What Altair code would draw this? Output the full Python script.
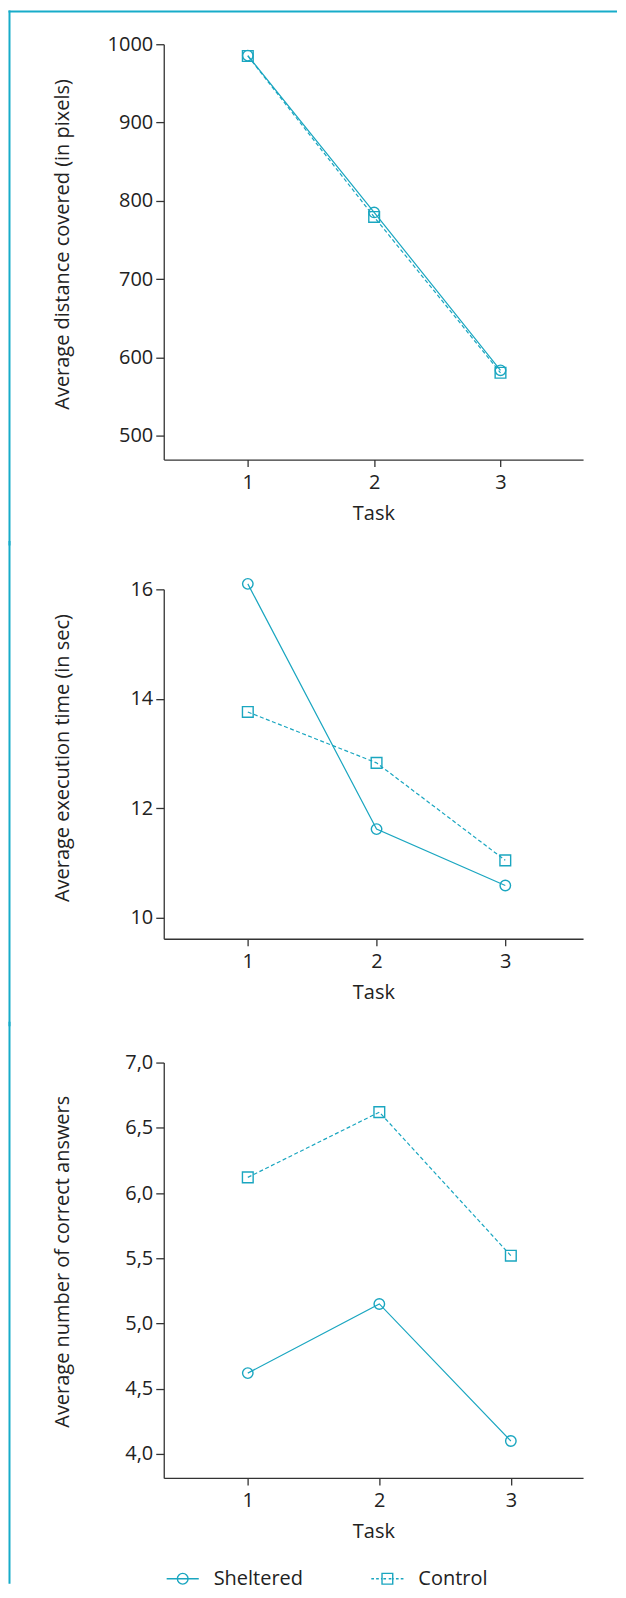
import altair as alt
import pandas as pd

TEAL = "#1aa6c0"
BORDER = "#17acc9"
INK = "#222222"
AXIS = "#333333"

# ---- data ----
tasks = [1, 2, 3]
groups = ["Sheltered", "Control"]

distance_sheltered = [985.5, 785.3, 583.7]
distance_control = [985.0, 779.5, 580.6]
time_sheltered = [16.10, 11.62, 10.59]
time_control = [13.76, 12.83, 11.05]
correct_sheltered = [4.62, 5.15, 4.10]
correct_control = [6.12, 6.62, 5.52]

distance_ticks = [500, 600, 700, 800, 900, 1000]
time_ticks = [10, 12, 14, 16]
correct_ticks = [4.0, 4.5, 5.0, 5.5, 6.0, 6.5, 7.0]

y_titles = [
    "Average distance covered (in pixels)",
    "Average execution time (in sec)",
    "Average number of correct answers",
]
x_title = "Task"

# legend symbols: marker with line through it (unit box scaled by symbol size)
PATH_S = "M-3 0 L3 0 M-1 0 A1 1 0 1 0 1 0 A1 1 0 1 0 -1 0"
PATH_C = ("M-3 0 L-2.5 0 M-2.1 0 L-1.6 0 M-1.2 0 L-1 0 "
          "M-0.75 0 L-0.25 0 M0.25 0 L0.75 0 "
          "M1 0 L1.2 0 M1.6 0 L2.1 0 M2.5 0 L3 0 "
          "M-1 -1 L1 -1 L1 1 L-1 1 Z")

FRAME_L = -155.5      # left edge of the frame, relative to plot origin
FRAME_W = 2
FRAME_RIGHT = 454.0
OVERLAP = 6           # frame pieces overlap across panel joints
PLOT_W = 420


def make_panel(sheltered, control, title, ydomain, yticks, xdomain, height,
               title_y, frame_top, frame_bottom, comma=False,
               top_border=False, legend=False):
    df = pd.DataFrame({
        "Task": tasks + tasks,
        "Group": [groups[0]] * 3 + [groups[1]] * 3,
        "Value": sheltered + control,
    })
    if comma:
        yaxis = alt.Axis(values=yticks, title=title, titleX=-91, titleY=title_y,
                         labelExpr="replace(format(datum.value, '.1f'), '.', ',')")
    else:
        yaxis = alt.Axis(values=yticks, title=title, titleX=-91, titleY=title_y,
                         format="d")
    xenc = alt.X("Task:Q",
                 scale=alt.Scale(domain=xdomain, nice=False, zero=False),
                 axis=alt.Axis(values=tasks, format="d", title=x_title, titleY=44))
    yenc = alt.Y("Value:Q",
                 scale=alt.Scale(domain=ydomain, nice=False, zero=False),
                 axis=yaxis)
    base = alt.Chart(df).encode(x=xenc, y=yenc)
    shel = base.transform_filter(alt.datum.Group == groups[0])
    ctrl = base.transform_filter(alt.datum.Group == groups[1])
    layers = [
        shel.mark_line(color=TEAL, strokeWidth=1.2),
        ctrl.mark_line(color=TEAL, strokeWidth=1.2, strokeDash=[4, 2.5]),
        shel.mark_point(shape="circle", filled=False, size=110, color=TEAL,
                        strokeWidth=1.4, opacity=1),
        ctrl.mark_point(shape="square", filled=False, size=115, color=TEAL,
                        strokeWidth=1.4, opacity=1),
    ]
    frame = pd.DataFrame({"edge": [0]})
    layers.append(
        alt.Chart(frame).mark_rect(color=BORDER, opacity=1)
        .encode(x=alt.value(FRAME_L), x2=alt.value(FRAME_L + FRAME_W),
                y=alt.value(frame_top), y2=alt.value(frame_bottom))
    )
    if top_border:
        layers.append(
            alt.Chart(frame).mark_rect(color=BORDER, opacity=1)
            .encode(x=alt.value(FRAME_L), x2=alt.value(FRAME_RIGHT),
                    y=alt.value(frame_top), y2=alt.value(frame_top + FRAME_W))
        )
    if legend:
        leg_df = pd.DataFrame({"Group": groups})
        layers.append(
            alt.Chart(leg_df).transform_filter("false")
            .mark_point(filled=False, color=TEAL, opacity=1, strokeWidth=1.4)
            .encode(shape=alt.Shape(
                "Group:N",
                scale=alt.Scale(domain=groups, range=[PATH_S, PATH_C]),
                legend=alt.Legend(
                    title=None, orient="none", direction="horizontal",
                    legendX=9, legendY=507, padding=0,
                    symbolSize=115, symbolStrokeWidth=1.4,
                    symbolStrokeColor=TEAL, symbolFillColor="transparent",
                    labelFont="Open Sans", labelFontSize=20, labelColor=INK,
                    labelOffset=21, columnPadding=65,
                ),
            ))
        )
    return alt.layer(*layers).properties(width=PLOT_W, height=height)


p1 = make_panel(distance_sheltered, distance_control, y_titles[0],
                [469.8, 1000], distance_ticks, [0.3346, 3.6535], 416,
                200, -33.8, 496.2 + OVERLAP, top_border=True)
p2 = make_panel(time_sheltered, time_control, y_titles[1],
                [9.617, 16], time_ticks, [0.347, 3.604], 350,
                168.5, -48.5, 431.5 + OVERLAP)
p3 = make_panel(correct_sheltered, correct_control, y_titles[2],
                [3.817, 7.0], correct_ticks, [0.361, 3.549], 416,
                199, -40.8, 522.0, comma=True, legend=True)

chart = (
    alt.vconcat(p1, p2, p3, spacing=-OVERLAP)
    .resolve_scale(shape="independent")
    .properties(padding=0, background="white")
    .configure(font="Open Sans")
    .configure_view(stroke="transparent")
    .configure_axis(grid=False, domainColor=AXIS, domainWidth=1.3,
                    tickColor=AXIS, tickWidth=1.3,
                    labelFont="Open Sans", labelFontSize=20, labelColor=INK,
                    titleFont="Open Sans", titleFontSize=20,
                    titleFontWeight="normal", titleColor=INK)
    .configure_axisX(tickSize=7, labelPadding=6)
    .configure_axisY(tickSize=8, labelPadding=3)
)

chart.save("out.html", embed_options={"renderer": "svg", "actions": False})
